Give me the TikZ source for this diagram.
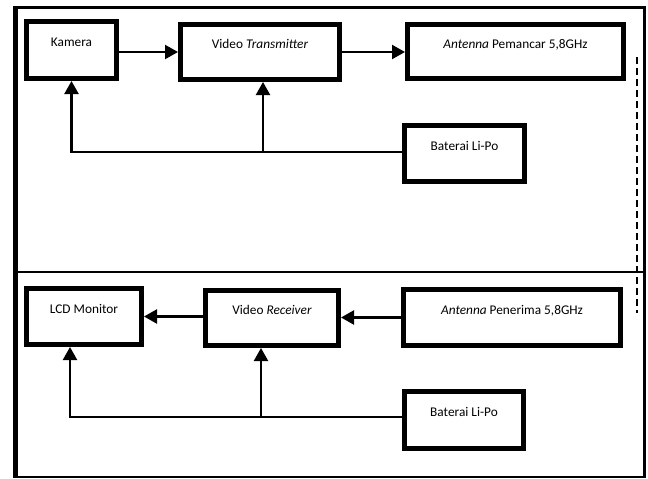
\documentclass[tikz,border=0pt]{standalone}
\usepackage{fontspec}
\setmainfont{Carlito}
\usepackage{tikz}
\usetikzlibrary{arrows.meta, positioning, calc}

\begin{document}
\begin{tikzpicture}[x=1pt, y=-1pt,
    box/.style={draw, line width=5pt, minimum width=#1, minimum height=56pt,
      inner sep=0pt, text height=9pt, text depth=16pt,
      font=\fontsize{13.3}{16}\selectfont},
    box/.default=100pt,
    link/.style={line width=2.2pt, -{Triangle[length=13pt, width=14pt]}}]
          \useasboundingbox (0,0) rectangle (648,479);
          % frame
          \draw[line width=5pt] (15.5,477.5) -- (15.5,5.8);
          \draw[line width=3.5pt] (13,7.6) -- (646,7.6);
          \draw[line width=3pt] (644.5,6) -- (644.5,478);
          \draw[line width=2pt] (13,477) -- (646,477);
          \draw[line width=1.5pt] (15,272) -- (645,272);
          \draw[line width=2.2pt, dash pattern=on 7pt off 4pt] (637,57) -- (637,313);
          % pemancar
          \node[box=90pt, minimum height=57pt] (kam) at (71.5,50) {Kamera};
          \node[box=159pt, minimum height=55pt] (vtx) at (260,52) {Video \textit{Transmitter}};
          \node[box=216pt, minimum height=54pt] (ant1) at (515.5,51.5) {\textit{Antenna} Pemancar 5,8GHz};
          \node[box=120pt] (bat1) at (464.5,153.5) {Baterai Li-Po};
          \coordinate (w1) at ([yshift=1.5pt]bat1.west);
          \coordinate (t1) at ([xshift=3pt]vtx.south);
          \draw[link] (kam.east |- vtx) -- (vtx.west);
          \draw[link] (vtx.east) -- (vtx.east -| ant1.west);
          \draw[link] (w1) -| (kam.south);
          \draw[link] (t1 |- w1) -- (t1);
          % penerima
          \node[box=115pt] (lcd) at (84,316.5) {LCD Monitor};
          \node[box=133pt, minimum height=55pt] (vrx) at (272,318) {Video \textit{Receiver}};
          \node[box=217pt] (ant2) at (512,317.5) {\textit{Antenna} Penerima 5,8GHz};
          \node[box=119pt, minimum height=57pt] (bat2) at (464,420) {Baterai Li-Po};
          \coordinate (w2) at ([yshift=3pt]bat2.west);
          \coordinate (t2) at ([xshift=-11pt]vrx.south);
          \coordinate (t3) at ([xshift=-14pt]lcd.south);
          \draw[link] (vrx.west |- lcd.east) -- (lcd.east);
          \draw[link] (ant2.west) -- (ant2.west -| vrx.east);
          \draw[link] (w2) -| (t3);
          \draw[link] (t2 |- w2) -- (t2);
        \end{tikzpicture}
\end{document}
